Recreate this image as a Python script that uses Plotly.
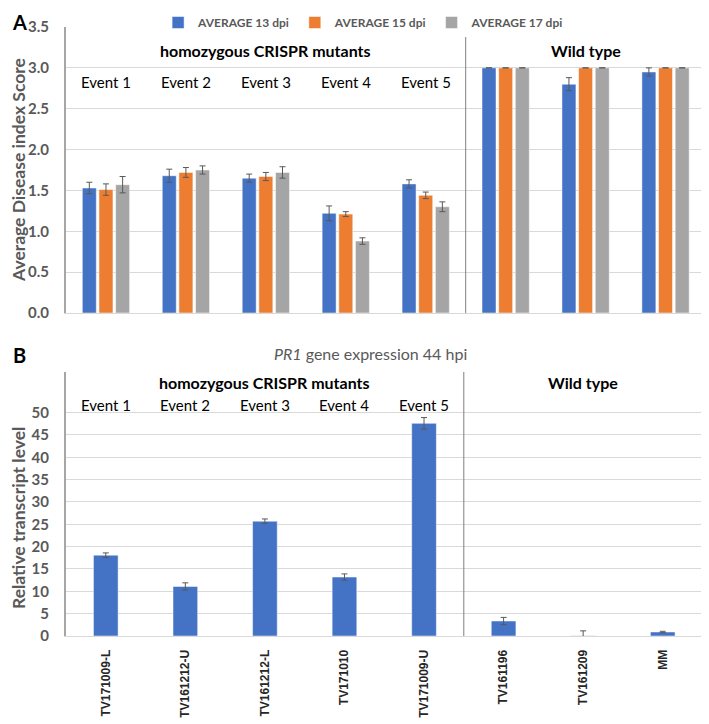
import plotly.graph_objects as go
from plotly.subplots import make_subplots

genotypes = ["TV171009-L", "TV161212-U", "TV161212-L", "TV171010", "TV171009-U",
             "TV161196", "TV161209", "MM"]
events = ["Event 1", "Event 2", "Event 3", "Event 4", "Event 5"]
n_mutants = len(events)

series_names = ["AVERAGE 13 dpi", "AVERAGE 15 dpi", "AVERAGE 17 dpi"]
dpi13 = [1.53, 1.68, 1.65, 1.22, 1.58, 3.00, 2.80, 2.95]
dpi15 = [1.51, 1.72, 1.67, 1.21, 1.44, 3.00, 3.00, 3.00]
dpi17 = [1.57, 1.75, 1.72, 0.88, 1.30, 3.00, 3.00, 3.00]
err13 = [0.07, 0.08, 0.05, 0.09, 0.05, 0.0, 0.08, 0.05]
err15 = [0.07, 0.06, 0.05, 0.03, 0.04, 0.0, 0.0, 0.0]
err17 = [0.10, 0.05, 0.07, 0.04, 0.06, 0.0, 0.0, 0.0]

pr1 = [18.1, 11.1, 25.7, 13.2, 47.6, 3.36, 0.05, 0.9]
pr1_err = [0.5, 0.8, 0.5, 0.7, 1.3, 0.8, 1.1, 0.15]

colors = ["#4472C4", "#ED7D31", "#A5A5A5"]
GRAY = "#595959"
FONT = "Lato"

# the page body has an 8px margin, so the figure is sized to fit inside it
OFF = 8
W, H = 709 - OFF, 724 - OFF
L, R, T, B = 66 - OFF, 3, 27 - OFF, 88

fig = make_subplots(rows=2, cols=1)

for name, vals, errs, col in zip(series_names, [dpi13, dpi15, dpi17],
                                 [err13, err15, err17], colors):
    fig.add_bar(x=genotypes, y=vals, name=name, marker_color=col,
                marker_line=dict(color="white", width=0.5),
                error_y=dict(type="data", array=errs, color=GRAY, thickness=1, width=3),
                row=1, col=1)

fig.add_bar(x=genotypes, y=pr1, marker_color="#4472C4", showlegend=False,
            marker_line=dict(color="white", width=0.5),
            error_y=dict(type="data", array=pr1_err, color=GRAY, thickness=1, width=3),
            width=0.31, row=2, col=1)

fig.update_layout(
    width=W, height=H,
    margin=dict(l=L, r=R, t=T, b=B, autoexpand=False),
    paper_bgcolor="white", plot_bgcolor="white",
    font=dict(family=FONT, color="black"),
    barmode="group", bargap=0.375, bargroupgap=0.16,
    legend=dict(orientation="h", x=0.465, xanchor="center", y=1.0, yanchor="top",
                yref="container", font=dict(size=12, color=GRAY, weight="bold"),
                itemwidth=30, tracegroupgap=0),
)

fig.update_xaxes(showgrid=False, showline=True, linecolor="#D9D9D9", linewidth=1,
                 mirror=False, ticks="", automargin=False)
fig.update_xaxes(domain=[0, 1], showticklabels=False, row=1, col=1)
fig.update_xaxes(domain=[0, 0.9953], tickangle=-90, ticklabelstandoff=8,
                 tickfont=dict(family="Liberation Sans", size=12, color="#262626",
                               weight="bold"), row=2, col=1)

fig.update_yaxes(showgrid=True, gridcolor="#D9D9D9", gridwidth=1,
                 showline=True, linecolor="#A6A6A6", linewidth=2, zeroline=False,
                 ticks="", ticklabelstandoff=12, automargin=False,
                 tickfont=dict(size=15, color=GRAY, weight="bold"))
fig.update_yaxes(domain=[0.5304, 1.0], range=[0, 3.5], dtick=0.5, tickformat=".1f",
                 row=1, col=1)
fig.update_yaxes(domain=[0, 0.4335], range=[0, 59.1],
                 tickvals=list(range(0, 55, 5)), row=2, col=1)

# divider and right borders
for xr, yr, ytop in [("x", "y", 3.5), ("x2", "y2", 59.1)]:
    fig.add_shape(type="line", xref=xr, yref=yr, x0=n_mutants - 0.5, x1=n_mutants - 0.5,
                  y0=0, y1=ytop, line=dict(color="#7F7F7F", width=1))
    fig.add_shape(type="line", xref=xr, yref=yr, x0=len(genotypes) - 0.5,
                  x1=len(genotypes) - 0.5, y0=0, y1=ytop,
                  line=dict(color="#7F7F7F", width=1))

# group headers and event labels
mut_center = (n_mutants - 1) / 2
wt_center = n_mutants + (len(genotypes) - n_mutants - 1) / 2
for xr, yr, y_head, y_ev in [("x", "y", 3.21, 2.83), ("x2", "y2", 56.7, 51.6)]:
    fig.add_annotation(x=mut_center, y=y_head, xref=xr, yref=yr,
                       text="<b>homozygous CRISPR mutants</b>", showarrow=False,
                       font=dict(size=16, color="black"))
    fig.add_annotation(x=wt_center, y=y_head, xref=xr, yref=yr,
                       text="<b>Wild type</b>", showarrow=False,
                       font=dict(size=16, color="black"))
    for i, ev in enumerate(events):
        fig.add_annotation(x=i, y=y_ev, xref=xr, yref=yr, text=ev, showarrow=False,
                           font=dict(size=15, color="black"))

# panel letters, titles (window pixel positions, converted below)
fig.add_annotation(x=19, y=22, text="<b>A</b>", showarrow=False,
                   font=dict(size=20, color="black"))
fig.add_annotation(x=19, y=355, text="<b>B</b>", showarrow=False,
                   font=dict(size=20, color="black"))
fig.add_annotation(x=18, y=170, text="<b>Average Disease index Score</b>",
                   textangle=-90, showarrow=False, font=dict(size=17.5, color=GRAY))
fig.add_annotation(x=18, y=518, text="<b>Relative transcript level</b>",
                   textangle=-90, showarrow=False, font=dict(size=17.5, color=GRAY))
fig.add_annotation(x=370, y=353, text="<i>PR1</i> gene expression 44 hpi",
                   showarrow=False, font=dict(size=16, color=GRAY))

pw, ph = W - L - R, H - T - B
for a in fig.layout.annotations[-5:]:
    a.xref = "paper"
    a.yref = "paper"
    a.x = (a.x - OFF - L) / pw
    a.y = (H - B - (a.y - OFF)) / ph
    a.xanchor = "center"
    a.yanchor = "middle"

fig.write_html("out.html")
